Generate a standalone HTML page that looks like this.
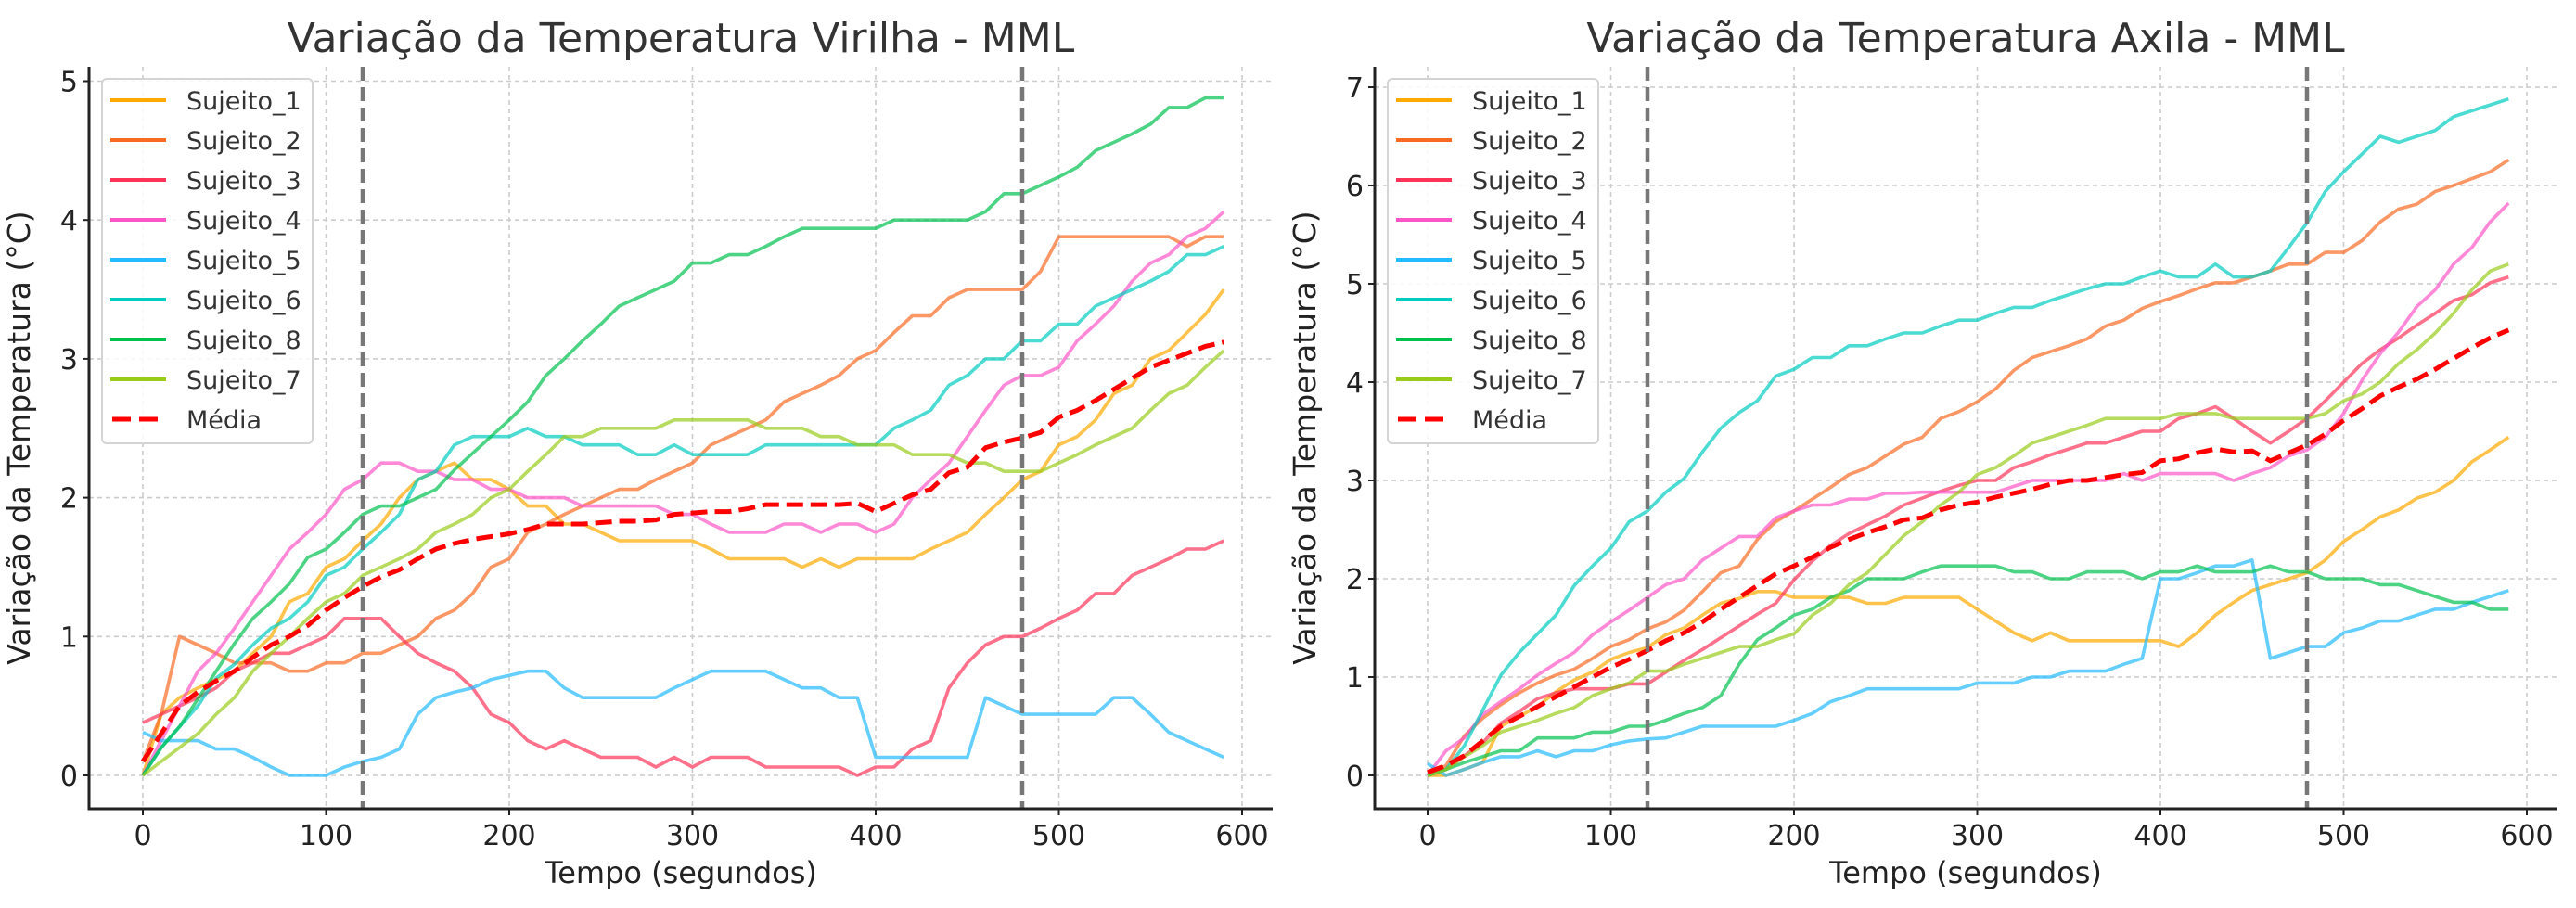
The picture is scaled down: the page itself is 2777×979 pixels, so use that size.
<!DOCTYPE html>
<html><head><meta charset="utf-8">
<style>
html,body{margin:0;padding:0;background:#fff;}
svg{display:block;font-family:"DejaVu Sans","Liberation Sans",sans-serif;}
</style></head>
<body>
<svg id="chart" width="2777" height="979" viewBox="0 0 2777 979" xmlns="http://www.w3.org/2000/svg">
<rect width="2777" height="979" fill="#fff"/>
</svg>
<script>
const times=[0,10,20,30,40,50,60,70,80,90,100,110,120,130,140,150,160,170,180,190,200,210,220,230,240,250,260,270,280,290,300,310,320,330,340,350,360,370,380,390,400,410,420,430,440,450,460,470,480,490,500,510,520,530,540,550,560,570,580,590];
const xTicks=[0,100,200,300,400,500,600];
const yTicksLeft=[0,1,2,3,4,5];
const yTicksRight=[0,1,2,3,4,5,6,7];
const phaseMarks=[120,480];
const seriesNames=["Sujeito_1","Sujeito_2","Sujeito_3","Sujeito_4","Sujeito_5","Sujeito_6","Sujeito_8","Sujeito_7"];
const seriesColors=["#ffaa00","#f96a24","#ff3358","#ff55c8","#22bbff","#00ccc0","#00c050","#99cc1a"];

const L_S1=[0,0.44,0.56,0.63,0.69,0.75,0.88,1.0,1.25,1.31,1.5,1.56,1.69,1.81,2.0,2.13,2.19,2.25,2.13,2.13,2.06,1.94,1.94,1.81,1.81,1.75,1.69,1.69,1.69,1.69,1.69,1.63,1.56,1.56,1.56,1.56,1.5,1.56,1.5,1.56,1.56,1.56,1.56,1.63,1.69,1.75,1.88,2.0,2.13,2.19,2.38,2.44,2.56,2.75,2.81,3.0,3.06,3.19,3.32,3.5];
const L_S2=[0.1,0.44,1.0,0.94,0.88,0.81,0.81,0.81,0.75,0.75,0.81,0.81,0.88,0.88,0.94,1.0,1.13,1.19,1.31,1.5,1.56,1.75,1.81,1.88,1.94,2.0,2.06,2.06,2.13,2.19,2.25,2.38,2.44,2.5,2.56,2.69,2.75,2.81,2.88,3.0,3.06,3.19,3.31,3.31,3.44,3.5,3.5,3.5,3.5,3.63,3.88,3.88,3.88,3.88,3.88,3.88,3.88,3.81,3.88,3.88];
const L_S3=[0.38,0.44,0.5,0.56,0.63,0.75,0.81,0.88,0.88,0.94,1.0,1.13,1.13,1.13,1.0,0.88,0.81,0.75,0.63,0.44,0.38,0.25,0.19,0.25,0.19,0.13,0.13,0.13,0.06,0.13,0.06,0.13,0.13,0.13,0.06,0.06,0.06,0.06,0.06,0,0.06,0.06,0.19,0.25,0.63,0.81,0.94,1.0,1.0,1.06,1.13,1.19,1.31,1.31,1.44,1.5,1.56,1.63,1.63,1.69];
const L_S4=[0,0.25,0.5,0.75,0.88,1.06,1.25,1.44,1.63,1.75,1.88,2.06,2.13,2.25,2.25,2.19,2.19,2.13,2.13,2.06,2.06,2.0,2.0,2.0,1.94,1.94,1.94,1.94,1.94,1.88,1.88,1.81,1.75,1.75,1.75,1.81,1.81,1.75,1.81,1.81,1.75,1.81,2.0,2.13,2.25,2.44,2.63,2.81,2.88,2.88,2.94,3.13,3.25,3.38,3.56,3.69,3.75,3.88,3.94,4.06];
const L_S5=[0.31,0.25,0.25,0.25,0.19,0.19,0.13,0.06,0,0,0,0.06,0.1,0.13,0.19,0.44,0.56,0.6,0.63,0.69,0.72,0.75,0.75,0.63,0.56,0.56,0.56,0.56,0.56,0.63,0.69,0.75,0.75,0.75,0.75,0.69,0.63,0.63,0.56,0.56,0.13,0.13,0.13,0.13,0.13,0.13,0.56,0.5,0.44,0.44,0.44,0.44,0.44,0.56,0.56,0.44,0.31,0.25,0.19,0.13];
const L_S6=[0,0.2,0.35,0.5,0.7,0.8,0.94,1.06,1.13,1.25,1.44,1.5,1.63,1.75,1.88,2.13,2.19,2.38,2.44,2.44,2.44,2.5,2.44,2.44,2.38,2.38,2.38,2.31,2.31,2.38,2.31,2.31,2.31,2.31,2.38,2.38,2.38,2.38,2.38,2.38,2.38,2.5,2.56,2.63,2.81,2.88,3.0,3.0,3.13,3.13,3.25,3.25,3.38,3.44,3.5,3.56,3.63,3.75,3.75,3.81];
const L_S8=[0,0.2,0.35,0.55,0.75,0.95,1.13,1.25,1.38,1.57,1.63,1.75,1.88,1.94,1.94,2.0,2.06,2.2,2.32,2.44,2.56,2.69,2.88,3.0,3.13,3.25,3.38,3.44,3.5,3.56,3.69,3.69,3.75,3.75,3.81,3.88,3.94,3.94,3.94,3.94,3.94,4.0,4.0,4.0,4.0,4.0,4.06,4.19,4.19,4.25,4.31,4.38,4.5,4.56,4.62,4.69,4.81,4.81,4.88,4.88];
const L_S7=[0,0.1,0.2,0.3,0.44,0.56,0.75,0.88,1.0,1.13,1.25,1.31,1.44,1.5,1.56,1.63,1.75,1.81,1.88,2.0,2.06,2.19,2.31,2.44,2.44,2.5,2.5,2.5,2.5,2.56,2.56,2.56,2.56,2.56,2.5,2.5,2.5,2.44,2.44,2.38,2.38,2.38,2.31,2.31,2.31,2.25,2.25,2.19,2.19,2.19,2.25,2.31,2.38,2.44,2.5,2.63,2.75,2.81,2.94,3.06];
const L_mean=[0.1,0.3,0.5,0.6,0.68,0.75,0.85,0.94,1.0,1.08,1.19,1.28,1.36,1.43,1.48,1.56,1.63,1.67,1.7,1.72,1.74,1.77,1.81,1.81,1.81,1.82,1.83,1.83,1.84,1.88,1.89,1.9,1.9,1.92,1.95,1.95,1.95,1.95,1.95,1.96,1.9,1.96,2.02,2.06,2.18,2.22,2.36,2.4,2.43,2.47,2.58,2.63,2.7,2.78,2.86,2.94,2.99,3.04,3.09,3.12];

const R_S1=[0,0,0.06,0.13,0.5,0.6,0.7,0.85,0.97,1.05,1.18,1.25,1.3,1.43,1.5,1.63,1.75,1.8,1.87,1.87,1.81,1.81,1.81,1.81,1.75,1.75,1.81,1.81,1.81,1.81,1.69,1.57,1.45,1.37,1.45,1.37,1.37,1.37,1.37,1.37,1.37,1.31,1.45,1.63,1.76,1.88,1.94,2.0,2.06,2.19,2.38,2.5,2.63,2.7,2.82,2.88,3.0,3.19,3.31,3.44];
const R_S2=[0,0.1,0.4,0.58,0.72,0.84,0.94,1.02,1.08,1.19,1.31,1.38,1.49,1.56,1.68,1.87,2.06,2.13,2.4,2.58,2.69,2.81,2.93,3.06,3.13,3.25,3.37,3.44,3.63,3.7,3.8,3.93,4.12,4.25,4.31,4.37,4.44,4.57,4.63,4.75,4.82,4.88,4.95,5.01,5.01,5.07,5.13,5.2,5.2,5.32,5.32,5.44,5.63,5.76,5.81,5.94,6.0,6.07,6.14,6.26];
const R_S3=[0,0.06,0.2,0.33,0.53,0.65,0.78,0.84,0.88,0.88,0.88,0.93,0.93,1.05,1.17,1.28,1.4,1.52,1.64,1.75,1.99,2.18,2.34,2.46,2.55,2.64,2.75,2.82,2.89,2.95,3.0,3.0,3.13,3.19,3.26,3.32,3.38,3.38,3.44,3.5,3.5,3.63,3.68,3.75,3.63,3.5,3.38,3.5,3.63,3.81,4.0,4.19,4.33,4.45,4.58,4.7,4.83,4.89,5.01,5.07];
const R_S4=[0,0.25,0.38,0.62,0.75,0.88,1.02,1.14,1.25,1.43,1.56,1.68,1.81,1.94,2.0,2.19,2.31,2.43,2.43,2.62,2.69,2.75,2.75,2.81,2.81,2.87,2.87,2.88,2.88,2.88,2.88,2.88,2.94,3.0,3.0,3.0,3.0,3.0,3.07,3.0,3.07,3.07,3.07,3.07,3.0,3.07,3.13,3.25,3.31,3.44,3.68,4.02,4.29,4.51,4.77,4.94,5.2,5.37,5.63,5.82];
const R_S5=[0.12,0,0.06,0.13,0.19,0.19,0.25,0.19,0.25,0.25,0.31,0.35,0.37,0.38,0.44,0.5,0.5,0.5,0.5,0.5,0.56,0.63,0.75,0.81,0.88,0.88,0.88,0.88,0.88,0.88,0.94,0.94,0.94,1.0,1.0,1.06,1.06,1.06,1.13,1.19,2.0,2.0,2.06,2.13,2.13,2.19,1.19,1.25,1.31,1.31,1.45,1.5,1.57,1.57,1.63,1.69,1.69,1.76,1.82,1.88];
const R_S6=[0,0.06,0.3,0.66,1.02,1.25,1.44,1.63,1.93,2.13,2.31,2.58,2.69,2.88,3.02,3.29,3.53,3.69,3.81,4.06,4.13,4.25,4.25,4.37,4.37,4.44,4.5,4.5,4.57,4.63,4.63,4.7,4.76,4.76,4.83,4.89,4.95,5.0,5.0,5.07,5.13,5.07,5.07,5.2,5.07,5.07,5.13,5.37,5.62,5.94,6.14,6.32,6.5,6.44,6.5,6.56,6.7,6.76,6.82,6.88];
const R_S8=[0,0.06,0.13,0.19,0.25,0.25,0.38,0.38,0.38,0.44,0.44,0.5,0.5,0.56,0.63,0.69,0.81,1.13,1.38,1.5,1.63,1.69,1.81,1.88,2.0,2.0,2.0,2.07,2.13,2.13,2.13,2.13,2.07,2.07,2.0,2.0,2.07,2.07,2.07,2.0,2.07,2.07,2.13,2.07,2.07,2.07,2.13,2.07,2.07,2.0,2.0,2.0,1.94,1.94,1.88,1.82,1.76,1.76,1.69,1.69];
const R_S7=[0,0.06,0.19,0.3,0.44,0.5,0.56,0.63,0.69,0.81,0.88,0.94,1.06,1.06,1.13,1.19,1.25,1.31,1.31,1.38,1.44,1.63,1.75,1.94,2.06,2.25,2.44,2.58,2.75,2.88,3.06,3.13,3.25,3.38,3.44,3.5,3.56,3.63,3.63,3.63,3.63,3.68,3.68,3.68,3.63,3.63,3.63,3.63,3.63,3.68,3.81,3.88,4.0,4.19,4.33,4.5,4.7,4.94,5.13,5.2];
const R_mean=[0.03,0.1,0.2,0.35,0.5,0.6,0.7,0.8,0.9,1.0,1.1,1.18,1.27,1.37,1.45,1.56,1.69,1.81,1.93,2.05,2.13,2.22,2.32,2.4,2.47,2.53,2.6,2.62,2.7,2.75,2.78,2.83,2.87,2.91,2.96,3.0,3.0,3.03,3.06,3.08,3.2,3.22,3.28,3.32,3.29,3.3,3.2,3.28,3.36,3.47,3.61,3.73,3.86,3.95,4.03,4.13,4.24,4.35,4.45,4.53];

const NS="http://www.w3.org/2000/svg";
const svg=document.getElementById('chart');
function mk(tag,attrs,parent){const e=document.createElementNS(NS,tag);for(const k in attrs)e.setAttribute(k,attrs[k]);(parent||svg).appendChild(e);return e;}

function drawPanel(cfg){
  const g=mk('g',{});
  
  
  const L=cfg.left,R=cfg.right,T=72,B=872;
  const xS=v=>cfg.x0+(v)*(cfg.x100/100);
  const yS=v=>cfg.y0-v*cfg.yUnit;
  xTicks.forEach(t=>{const l=mk('line',{x1:xS(t),x2:xS(t),y1:T,y2:B,stroke:'#cccccc','stroke-width':1.6,'stroke-dasharray':'5,4'},g);
    });
  cfg.yTicks.forEach(t=>{const l=mk('line',{x1:L,x2:R,y1:yS(t),y2:yS(t),stroke:'#cccccc','stroke-width':1.6,'stroke-dasharray':'5,4'},g);
    });
  cfg.series.forEach((arr,i)=>{
    const d=arr.map((v,j)=>(j?'L':'M')+xS(times[j]).toFixed(1)+','+yS(v).toFixed(1)).join(' ');
    const p=mk('path',{d:d,fill:'none',stroke:seriesColors[i],'stroke-width':3.6,'stroke-opacity':0.7,'stroke-linejoin':'round'},g);
    
    
  });
  const dm=cfg.mean.map((v,j)=>(j?'L':'M')+xS(times[j]).toFixed(1)+','+yS(v).toFixed(1)).join(' ');
  const mp=mk('path',{d:dm,fill:'none',stroke:'#ff0000','stroke-width':5,'stroke-dasharray':'18,8'},g);
  
  
  phaseMarks.forEach(t=>{const l=mk('line',{x1:xS(t),x2:xS(t),y1:T,y2:B,stroke:'#777777','stroke-width':4.5,'stroke-dasharray':'15,7'},g);
    });
  const sp=mk('path',{d:`M${L},${T} L${L},${B} L${R},${B}`,fill:'none',stroke:'#222','stroke-width':3},g);
  
  xTicks.forEach(t=>{mk('line',{x1:xS(t),x2:xS(t),y1:B,y2:B+7,stroke:'#222','stroke-width':2},g);
    const tx=mk('text',{x:xS(t),y:911,'text-anchor':'middle','font-size':30,fill:'#222'},g);tx.textContent=t;
    });
  cfg.yTicks.forEach(t=>{mk('line',{x1:L-7,x2:L,y1:yS(t),y2:yS(t),stroke:'#222','stroke-width':2},g);
    const tx=mk('text',{x:L-12,y:yS(t)+11,'text-anchor':'end','font-size':30,fill:'#222'},g);tx.textContent=t;
    });
  const cx=(L+R)/2;
  const ti=mk('text',{x:cx,y:56,'text-anchor':'middle','font-size':44,fill:'#333'},g);ti.textContent=cfg.title;
  
  const xl=mk('text',{x:cx,y:952,'text-anchor':'middle','font-size':32,fill:'#222'},g);xl.textContent='Tempo (segundos)';
  
  const yx=L-64;
  const yl=mk('text',{x:yx,y:472,'text-anchor':'middle','font-size':33,fill:'#222',transform:`rotate(-90 ${yx} 472)`},g);yl.textContent='Variação da Temperatura (°C)';
  
  const lx=L+14,ly=85;
  const lg=mk('g',{},g);
  
  mk('rect',{x:lx,y:ly,width:227,height:393,rx:5,fill:'#fff','fill-opacity':0.85,stroke:'#d4d4d4','stroke-width':2},lg);
  const names=seriesNames.concat(['Média']);
  names.forEach((n,i)=>{
    const yy=ly+23+i*43;
    if(i<8){mk('line',{x1:lx+9,x2:lx+69,y1:yy,y2:yy,stroke:seriesColors[i],'stroke-width':4},lg);}
    else{mk('line',{x1:lx+11,x2:lx+61,y1:yy,y2:yy,stroke:'#ff0000','stroke-width':5,'stroke-dasharray':'20,9'},lg);}
    const t=mk('text',{x:lx+91,y:yy+10,'font-size':27,fill:'#333'},lg);t.textContent=n;
    
  });
}
drawPanel({id:'virilha',title:'Variação da Temperatura Virilha - MML',left:96,right:1372,x0:154,x100:197.5,y0:836,yUnit:149.7,yTicks:yTicksLeft,
  series:[L_S1,L_S2,L_S3,L_S4,L_S5,L_S6,L_S8,L_S7],mean:L_mean});
drawPanel({id:'axila',title:'Variação da Temperatura Axila - MML',left:1482,right:2756,x0:1539,x100:197.5,y0:836,yUnit:106,yTicks:yTicksRight,
  series:[R_S1,R_S2,R_S3,R_S4,R_S5,R_S6,R_S8,R_S7],mean:R_mean});
</script>
</body></html>
